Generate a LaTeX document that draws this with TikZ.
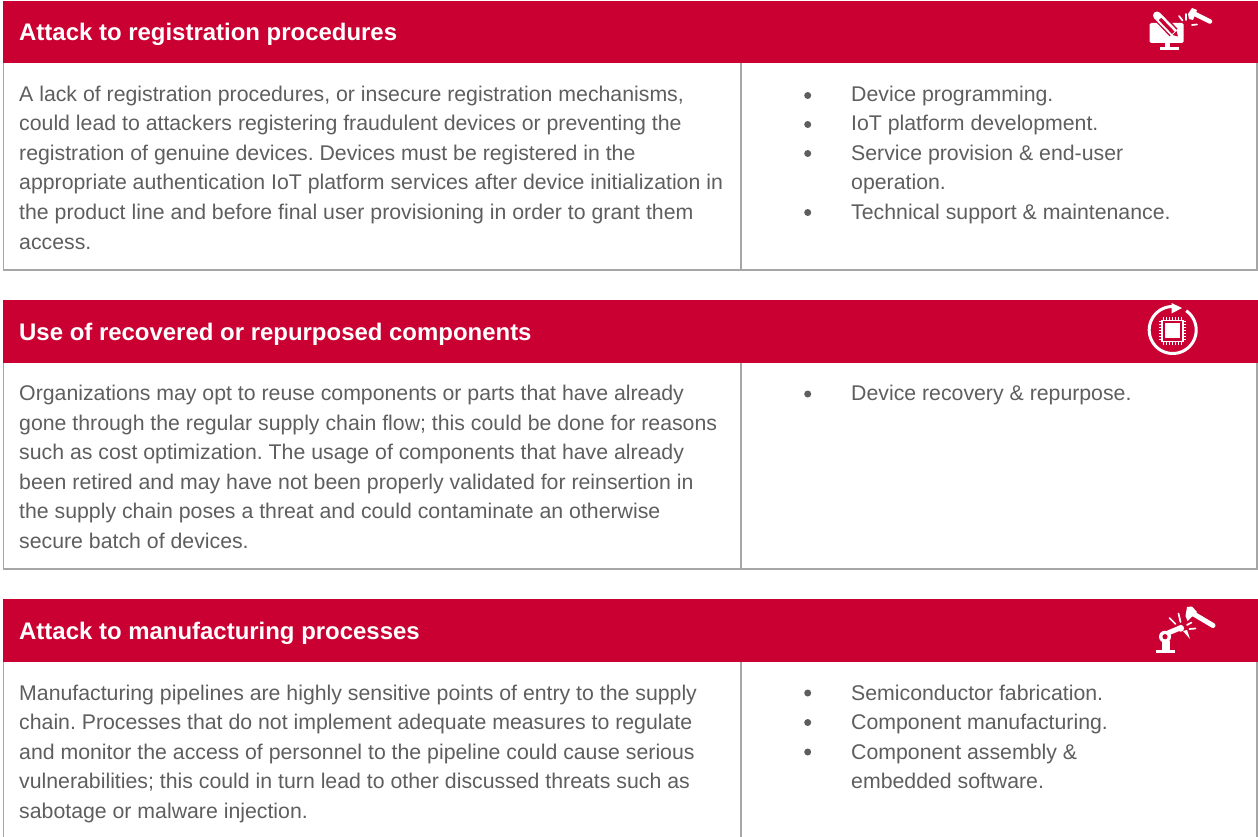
\documentclass[tikz,border=0pt]{standalone}
\usepackage{fontspec}
\setmainfont{Liberation Sans}
\frenchspacing
\definecolor{hdr}{HTML}{CA0033}
\definecolor{txt}{HTML}{5E5E5E}
\definecolor{rule}{HTML}{A6A6A6}
\tikzset{
  hdrbar/.style={fill=hdr,draw=none},
  frame/.style={draw=rule,line width=1.4pt},
  title/.style={anchor=base west,inner sep=0,text=white,font=\fontsize{23.95}{28}\selectfont\bfseries},
  body/.style={anchor=base west,inner sep=0,text=txt,font=\fontsize{21.28}{25}\selectfont},
  dot/.style={circle,fill=txt,inner sep=0,minimum size=7pt},
  spark/.style={draw=white,line width=1.7pt,line cap=round},
  icofill/.style={fill=white,draw=none}
}
\begin{document}
\begin{tikzpicture}[x=1pt,y=-1pt]
\useasboundingbox (0,0) rectangle (1258,837);
% frames
\draw[frame] (3.7,63) -- (3.7,270) -- (1257,270) -- (1257,63);
\draw[frame] (741,63) -- (741,270);
\draw[frame] (3.7,362) -- (3.7,569) -- (1257,569) -- (1257,362);
\draw[frame] (741,362) -- (741,569);
\draw[frame] (3.7,661) -- (3.7,837);
\draw[frame] (741,661) -- (741,837);
\draw[frame] (1257,661) -- (1257,837);
% headers
\fill[hdrbar] (3,1) rectangle (1258,63.5);
\fill[hdrbar] (3,300) rectangle (1258,362.5);
\fill[hdrbar] (3,599) rectangle (1258,661.5);
\node[title] (t1) at (19,41) {Attack to registration procedures};
\node[title] (t2) at (19,340.3) {Use of recovered or repurposed components};
\node[title] (t3) at (19,639.3) {Attack to manufacturing processes};
% left text 1
\node[body] (a1) at (19,101.6) {A lack of registration procedures, or insecure registration mechanisms,};
\node[body] (a2) at (19,131) {could lead to attackers registering fraudulent devices or preventing the};
\node[body] (a3) at (19,160.5) {registration of genuine devices. Devices must be registered in the};
\node[body] (a4) at (19,190) {appropriate authentication IoT platform services after device initialization in};
\node[body] (a5) at (19,219.5) {the product line and before final user provisioning in order to grant them};
\node[body] (a6) at (19,249) {access.};
% left text 2
\node[body] (b1) at (19,400.5) {Organizations may opt to reuse components or parts that have already};
\node[body] (b2) at (19,430) {gone through the regular supply chain flow; this could be done for reasons};
\node[body] (b3) at (19,459.5) {such as cost optimization. The usage of components that have already};
\node[body] (b4) at (19,489) {been retired and may have not been properly validated for reinsertion in};
\node[body] (b5) at (19,518.5) {the supply chain poses a threat and could contaminate an otherwise};
\node[body] (b6) at (19,548) {secure batch of devices.};
% left text 3
\node[body] (c1) at (19,700) {Manufacturing pipelines are highly sensitive points of entry to the supply};
\node[body] (c2) at (19,729.5) {chain. Processes that do not implement adequate measures to regulate};
\node[body] (c3) at (19,759) {and monitor the access of personnel to the pipeline could cause serious};
\node[body] (c4) at (19,788.5) {vulnerabilities; this could in turn lead to other discussed threats such as};
\node[body] (c5) at (19,818) {sabotage or malware injection.};
% right 1
\node[dot] (d1) at (807.7,95.5) {};
\node[dot] (d2) at (807.7,124.5) {};
\node[dot] (d3) at (807.7,153.5) {};
\node[dot] (d4) at (807.7,212.5) {};
\node[body] (r1) at (851,101.6) {Device programming.};
\node[body] (r2) at (851,131) {IoT platform development.};
\node[body] (r3) at (851,160.5) {Service provision \& end-user};
\node[body] (r3b) at (851,190) {operation.};
\node[body] (r4) at (851,219.5) {Technical support \& maintenance.};
% right 2
\node[dot] (d5) at (807.7,394) {};
\node[body] (r5) at (851,400.5) {Device recovery \& repurpose.};
% right 3
\node[dot] (d6) at (807.7,693) {};
\node[dot] (d7) at (807.7,722.5) {};
\node[dot] (d8) at (807.7,752) {};
\node[body] (r6) at (851,700) {Semiconductor fabrication.};
\node[body] (r7) at (851,729.5) {Component manufacturing.};
\node[body] (r8) at (851,759) {Component assembly \&};
\node[body] (r8b) at (851,788.5) {embedded software.};
% icon 1
\fill[icofill,rounded corners=1.5pt] (1149.5,23) rectangle (1183.5,43);
\fill[icofill] (1165,43) rectangle (1170,48);
\fill[icofill] (1160,47.5) rectangle (1179,50);
\draw[hdr,line width=11pt] (1156,14) -- (1174,33);
\draw[white,line width=8pt,line cap=round] (1157,15.5) -- (1174,33);
\draw[hdr,line width=3.4pt] (1160,19) -- (1174,33.5);
\fill[icofill] (1169,37) -- (1178,28.5) -- (1181,39) -- cycle;
\fill[hdr] (1172.5,35) -- (1176.5,31) -- (1178,36.5) -- cycle;
\draw[spark] (1179,16) -- (1182.5,20.5);
\draw[spark] (1186,14) -- (1186,20);
\draw[spark] (1192,25) -- (1197,24.5);
\fill[icofill] (1188,14) -- (1192,8) -- (1197,10) -- (1193,20) -- (1189,19) -- cycle;
\draw[white,line width=4.5pt,line cap=round] (1194,13.5) -- (1210,21.5);
% icon 2
\draw[white,line width=3pt] plot[smooth,domain=55:-268,samples=70] ({1172.7+23.5*cos(\x)},{330-23.5*sin(\x)});
\fill[icofill] (1171.5,303) -- (1182,308) -- (1171.5,313.5) -- cycle;
\draw[white,line width=1.4pt,fill=hdr] (1162,320.3) rectangle (1183,341.3);
\fill[icofill] (1165,323.3) rectangle (1180,338.3);
\foreach \k in {0,1,...,6}{
  \draw[white,line width=1pt] (1163.5+\k*3,317) -- (1163.5+\k*3,320.3);
  \draw[white,line width=1pt] (1163.5+\k*3,341.3) -- (1163.5+\k*3,344.6);
  \draw[white,line width=1pt] (1158.7,321.8+\k*3) -- (1162,321.8+\k*3);
  \draw[white,line width=1pt] (1183,321.8+\k*3) -- (1186.3,321.8+\k*3);
}
% icon 3
\fill[icofill] (1156,650) rectangle (1175,652.7);
\fill[icofill] (1162,641) rectangle (1170,650);
\fill[icofill] (1165,636.7) circle (6);
\fill[hdr] (1165,636.7) circle (2.6);
\draw[white,line width=5pt] (1168,633) -- (1180,628);
\fill[icofill] (1180.7,628.3) circle (3.4);
\fill[icofill] (1183,631) -- (1187,630) -- (1190,639) -- cycle;
\draw[spark] (1169.5,618) -- (1175.5,624);
\draw[spark] (1178.5,613.5) -- (1180.5,622);
\draw[spark] (1187,625) -- (1191.5,622.5);
\draw[spark] (1189.5,629) -- (1195.5,628.5);
\fill[icofill] (1185.5,616) -- (1187,607) -- (1192,606.5) -- (1197,612) -- (1187.5,621) -- cycle;
\draw[white,line width=5pt,line cap=round] (1192,613) -- (1213,625.5);
\end{tikzpicture}
\end{document}
